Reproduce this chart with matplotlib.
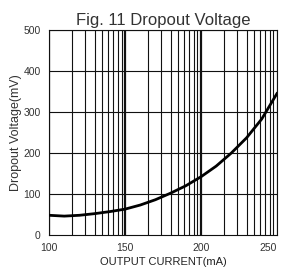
import numpy as np
import matplotlib
matplotlib.use('Agg')
import matplotlib.pyplot as plt

plt.rcParams['font.family'] = ['Liberation Sans', 'DejaVu Sans']

current = [100, 110, 120, 130, 140, 150, 160, 170, 180, 190, 200, 210, 220, 230, 240, 250]  # mA
dropout = [48, 46, 48, 52, 57, 63, 73, 86, 102, 120, 142, 168, 200, 237, 283, 345]  # mV
xticks = [100, 150, 200, 250]
yticks = [0, 100, 200, 300, 400, 500]

fig = plt.figure(figsize=(2.82, 2.71), dpi=100)
ax = fig.add_axes([0.174, 0.133, 0.808, 0.756])

# log-paper style vertical grid (3 decades mapped onto 100..250)
for d in range(3):
    for n in range(1, 10):
        gx = 100 + 50 * (d + np.log10(n))
        ax.axvline(gx, color='#111', lw=1.6 if n == 1 else 0.8, zorder=1)
ax.axvline(250, color='#111', lw=0.8, zorder=1)
for gy in yticks[1:]:
    ax.axhline(gy, color='#111', lw=0.8, zorder=1)

ax.plot(current, dropout, color='black', lw=2.0, zorder=3)

ax.set_xlim(100, 250)
ax.set_ylim(0, 500)
ax.set_xticks(xticks)
ax.set_yticks(yticks)
ax.tick_params(length=0, labelsize=7.5, colors='#333')
ax.tick_params(axis='x', pad=6)
ax.tick_params(axis='y', pad=6)
xl = ax.get_xticklabels()
for lab in xl[:3]:
    lab.set_x(lab.get_position()[0])
xl[-1].set_horizontalalignment('right')
for s in ax.spines.values():
    s.set_color('#111')
    s.set_linewidth(0.8)

ax.set_title('Fig. 11 Dropout Voltage', fontsize=12, color='#333', pad=4)
ax.set_xlabel('OUTPUT CURRENT(mA)', fontsize=8, color='#222', labelpad=3)
ax.set_ylabel('Dropout Voltage(mV)', fontsize=9, color='#333', labelpad=1)

fig.savefig('out.png', dpi=100)
